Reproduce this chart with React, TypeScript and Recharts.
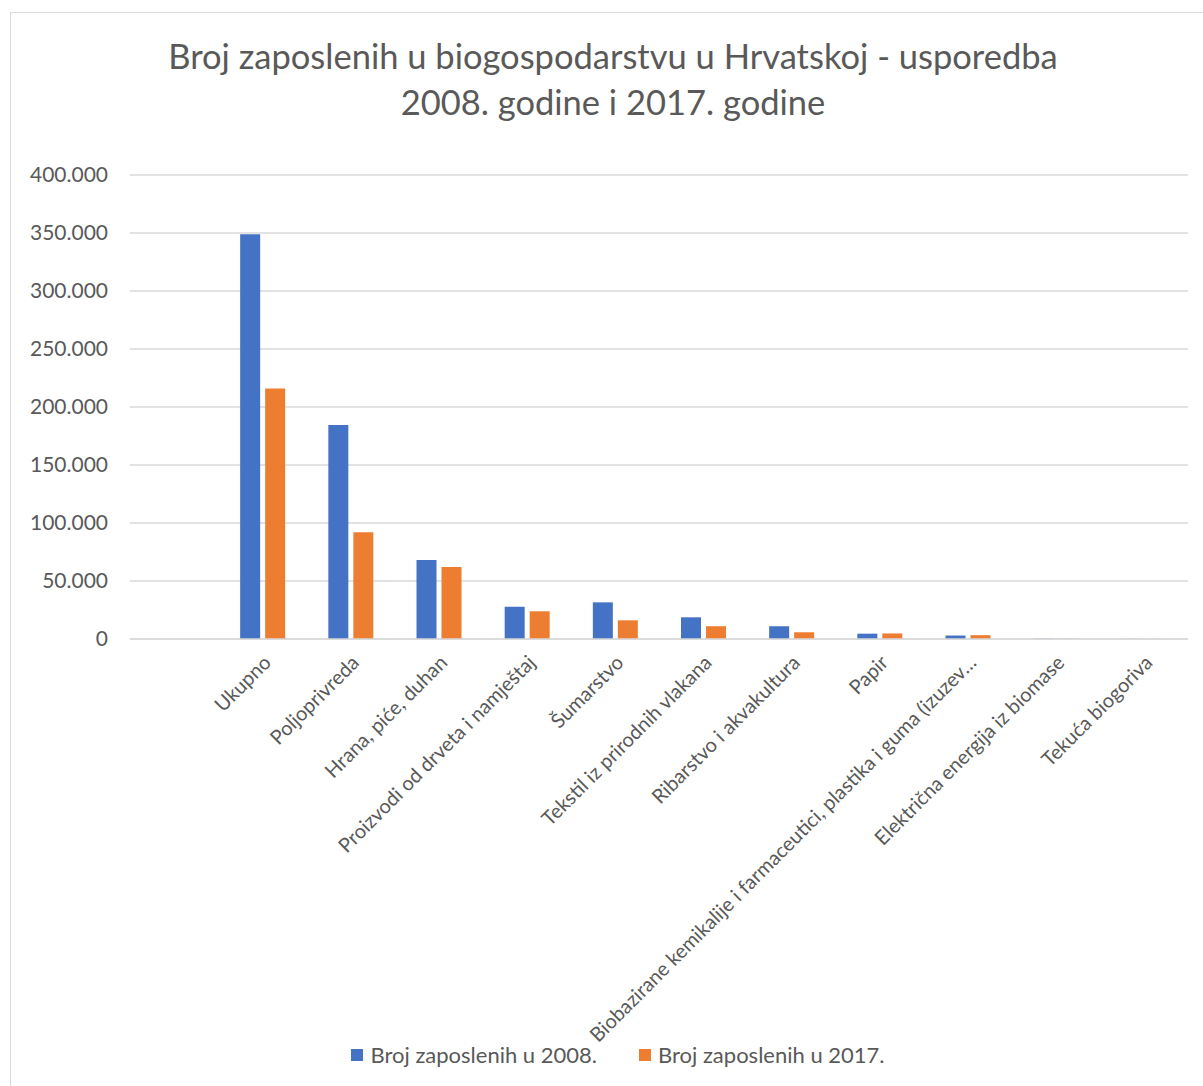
import { Bar, BarChart, CartesianGrid, XAxis, YAxis } from "recharts";

const categories = [
  "",
  "Ukupno",
  "Poljoprivreda",
  "Hrana, piće, duhan",
  "Proizvodi od drveta i namještaj",
  "Šumarstvo",
  "Tekstil iz prirodnih vlakana",
  "Ribarstvo i akvakultura",
  "Papir",
  "Biobazirane kemikalije i farmaceutici, plastika i guma (izuzev…",
  "Električna energija iz biomase",
  "Tekuća biogoriva",
];
const values2008 = [null, 349000, 184500, 68000, 27800, 31600, 18700, 11000, 4600, 3000, 300, 100];
const values2017 = [null, 216000, 92000, 62000, 23900, 16100, 11000, 5800, 4800, 3300, 200, 100];
const yTicks = [0, 50000, 100000, 150000, 200000, 250000, 300000, 350000, 400000];

const series = [
  { key: "y2008", label: "Broj zaposlenih u 2008.", color: "#4472C4" },
  { key: "y2017", label: "Broj zaposlenih u 2017.", color: "#ED7D31" },
];

const FONT = "Lato, 'Open Sans', sans-serif";
const INK = "#595959";

const data = categories.map((name, i) => ({ name, y2008: values2008[i], y2017: values2017[i] }));

function fmt(v: number) {
  return String(v).replace(/\B(?=(\d{3})+(?!\d))/g, ".");
}

function CategoryTick({ x, y, payload }: any) {
  return (
    <g transform={`translate(${x + 5},${y + 12}) rotate(-45)`}>
      <text textAnchor="end" dy="0.35em" fill={INK} fontSize={20} fontFamily={FONT}>
        {payload.value}
      </text>
    </g>
  );
}

export default function App() {
  return (
    <div style={{ position: "absolute", left: 0, top: 0, width: 1203, height: 1086, background: "#fff", fontFamily: FONT }}>
      <div style={{ position: "absolute", left: 10, top: 12, width: 1200, height: 1080, border: "1px solid #d9d9d9", boxSizing: "border-box" }} />
      <div style={{ position: "absolute", left: 0, top: 33, width: 1226, textAlign: "center", fontSize: 34.5, lineHeight: "46px", color: INK }}>
        Broj zaposlenih u biogospodarstvu u Hrvatskoj - usporedba
        <br />
        2008. godine i 2017. godine
      </div>
      <div style={{ position: "absolute", left: 0, top: 0 }}>
        <BarChart
          width={1203}
          height={1086}
          data={data}
          margin={{ top: 175, right: 15, bottom: 147, left: 0 }}
          barGap={5}
          barSize={20}
        >
          <CartesianGrid vertical={false} stroke="#d9d9d9" strokeWidth={1.3} />
          <XAxis
            dataKey="name"
            interval={0}
            height={300}
            tickLine={false}
            axisLine={{ stroke: "#d9d9d9", strokeWidth: 1.3 }}
            tick={<CategoryTick />}
          />
          <YAxis
            width={130}
            domain={[0, 400000]}
            ticks={yTicks}
            tickFormatter={fmt}
            axisLine={false}
            tickLine={false}
            tickSize={0}
            tickMargin={22}
            tick={{ fill: INK, fontSize: 21, fontFamily: FONT }}
          />
          {series.map((s) => (
            <Bar key={s.key} dataKey={s.key} name={s.label} fill={s.color} isAnimationActive={false} />
          ))}
        </BarChart>
      </div>
      <div style={{ position: "absolute", left: 0, top: 1041, width: 1236, display: "flex", justifyContent: "center", gap: 42, fontSize: 22, color: INK }}>
        {series.map((s) => (
          <div key={s.key} style={{ display: "flex", alignItems: "center", gap: 7 }}>
            <span style={{ width: 12, height: 12, background: s.color, display: "inline-block" }} />
            <span>{s.label}</span>
          </div>
        ))}
      </div>
    </div>
  );
}
